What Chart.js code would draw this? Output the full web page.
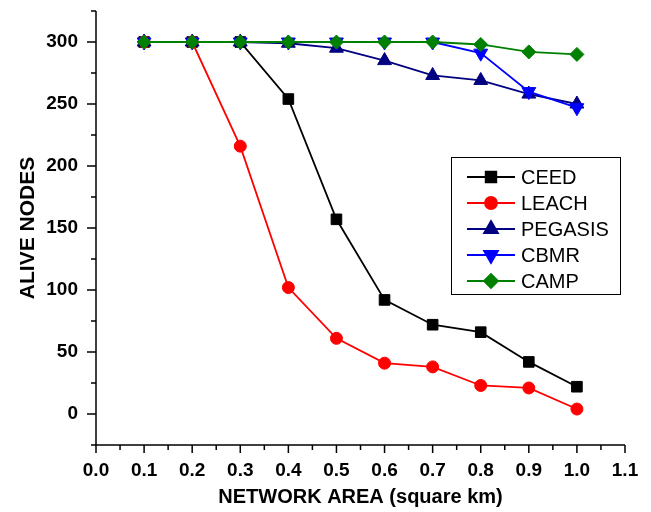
<!DOCTYPE html>
<html>
<head>
<meta charset="utf-8">
<script src="https://cdn.jsdelivr.net/npm/chart.js@4.4.0/dist/chart.umd.min.js"></script>
<style>
  html, body { margin: 0; padding: 0; background: #fff; }
  #wrap { width: 651px; height: 512px; }
</style>
</head>
<body>
<div id="wrap"><canvas id="nodesChart" width="651" height="512"></canvas></div>
<script>
const areas = [0.1, 0.2, 0.3, 0.4, 0.5, 0.6, 0.7, 0.8, 0.9, 1.0];
const ceed    = [300, 300, 300, 254, 157, 92, 72, 66, 42, 22];
const leach   = [300, 300, 216, 102, 61, 41, 38, 23, 21, 4];
const pegasis = [300, 300, 300, 299, 295, 285, 273, 269, 258, 250];
const cbmr    = [300, 300, 300, 300, 300, 300, 300, 291, 260, 247];
const camp    = [300, 300, 300, 300, 300, 300, 300, 298, 292, 290];
const xTicks = [0, 0.1, 0.2, 0.3, 0.4, 0.5, 0.6, 0.7, 0.8, 0.9, 1.0, 1.1];
const yTicks = [0, 50, 100, 150, 200, 250, 300];

const FONT = '"Liberation Sans", Arial, sans-serif';

function toPoints(vals) {
    return areas.map((a, i) => ({ x: a, y: vals[i] }));
}

function series(label, vals, color, style, radius, rotation, order) {
    return {
        label: label,
        data: toPoints(vals),
        borderColor: color,
        backgroundColor: color,
        pointBackgroundColor: color,
        pointBorderColor: color,
        pointStyle: style,
        pointRadius: radius,
        pointRotation: rotation,
        pointBorderWidth: 1,
        borderWidth: 1.8,
        tension: 0,
        fill: false,
        order: order
    };
}

// axis lines with major/minor outward ticks
const axesPlugin = {
    id: 'axesPlugin',
    afterDraw(chart) {
        const ctx = chart.ctx;
        const xs = chart.scales.x, ys = chart.scales.y;
        const area = chart.chartArea;
        ctx.save();
        ctx.strokeStyle = '#000';
        ctx.lineWidth = 1.5;
        ctx.beginPath();
        ctx.moveTo(area.left, area.top);
        ctx.lineTo(area.left, area.bottom);
        ctx.lineTo(area.right, area.bottom);
        ctx.stroke();
        ctx.beginPath();
        for (let i = 0; i <= 22; i++) {
            const px = xs.getPixelForValue(i * 0.05);
            const len = i % 2 === 0 ? 8 : 5;
            ctx.moveTo(px, area.bottom);
            ctx.lineTo(px, area.bottom + len);
        }
        for (let i = -1; i <= 13; i++) {
            const py = ys.getPixelForValue(i * 25);
            const len = i % 2 === 0 ? 9 : 5;
            ctx.moveTo(area.left, py);
            ctx.lineTo(area.left - len, py);
        }
        ctx.stroke();
        ctx.restore();
    }
};

// boxed legend inside the plot
const legendBox = {
    id: 'legendBox',
    afterDraw(chart) {
        const ctx = chart.ctx;
        const x0 = 451, y0 = 157, w = 169, h = 137;
        ctx.save();
        ctx.fillStyle = '#fff';
        ctx.fillRect(x0, y0, w, h);
        ctx.strokeStyle = '#000';
        ctx.lineWidth = 1;
        ctx.strokeRect(x0 + 0.5, y0 + 0.5, w, h);
        chart.data.datasets.forEach((ds, i) => {
            const cy = y0 + 20 + i * 26;
            ctx.strokeStyle = ds.borderColor;
            ctx.lineWidth = 1.8;
            ctx.beginPath();
            ctx.moveTo(x0 + 16, cy);
            ctx.lineTo(x0 + 64, cy);
            ctx.stroke();
            ctx.fillStyle = ds.borderColor;
            Chart.helpers.drawPoint(ctx, {
                pointStyle: ds.pointStyle,
                radius: ds.pointRadius,
                rotation: ds.pointRotation,
                borderWidth: 1
            }, x0 + 40, cy);
            ctx.fillStyle = '#000';
            ctx.font = '20px ' + FONT;
            ctx.textBaseline = 'middle';
            ctx.fillText(ds.label, x0 + 70, cy + 1);
        });
        ctx.restore();
    }
};

new Chart(document.getElementById('nodesChart'), {
    type: 'line',
    data: {
        datasets: [
            series('CEED', ceed, '#000000', 'rect', 7.5, 0, 5),
            series('LEACH', leach, '#ff0000', 'circle', 6, 0, 4),
            series('PEGASIS', pegasis, '#000080', 'triangle', 8, 0, 3),
            series('CBMR', cbmr, '#0000ff', 'triangle', 8, 180, 2),
            series('CAMP', camp, '#008000', 'rectRot', 7, 0, 1)
        ]
    },
    options: {
        responsive: false,
        animation: false,
        layout: { padding: { top: 11, right: 26, left: 0, bottom: 0 } },
        plugins: {
            legend: { display: false },
            tooltip: { enabled: false }
        },
        scales: {
            x: {
                type: 'linear',
                min: 0,
                max: 1.1,
                afterBuildTicks: s => { s.ticks = xTicks.map(v => ({ value: v })); },
                afterFit: s => { s.height = 67; s.paddingLeft = 0; s.paddingRight = 0; },
                grid: { display: false, drawTicks: false },
                border: { display: false },
                ticks: {
                    padding: 14,
                    color: '#000',
                    font: { family: FONT, size: 19, weight: 'bold' },
                    callback: v => v.toFixed(1),
                    maxRotation: 0,
                    autoSkip: false
                },
                title: {
                    display: true,
                    text: 'NETWORK AREA (square km)',
                    color: '#000',
                    font: { family: FONT, size: 20, weight: 'bold' },
                    padding: { top: 3, bottom: 3 }
                }
            },
            y: {
                min: -25,
                max: 325,
                afterBuildTicks: s => { s.ticks = yTicks.map(v => ({ value: v })); },
                afterFit: s => { s.width = 96; s.paddingTop = 0; s.paddingBottom = 0; },
                grid: { display: false, drawTicks: false },
                border: { display: false },
                ticks: {
                    padding: 18,
                    color: '#000',
                    font: { family: FONT, size: 19, weight: 'bold' },
                    autoSkip: false
                },
                title: {
                    display: true,
                    text: 'ALIVE NODES',
                    color: '#000',
                    font: { family: FONT, size: 21, weight: 'bold' },
                    padding: { top: 16, bottom: 16 }
                }
            }
        }
    },
    plugins: [axesPlugin, legendBox]
});
</script>
</body>
</html>
